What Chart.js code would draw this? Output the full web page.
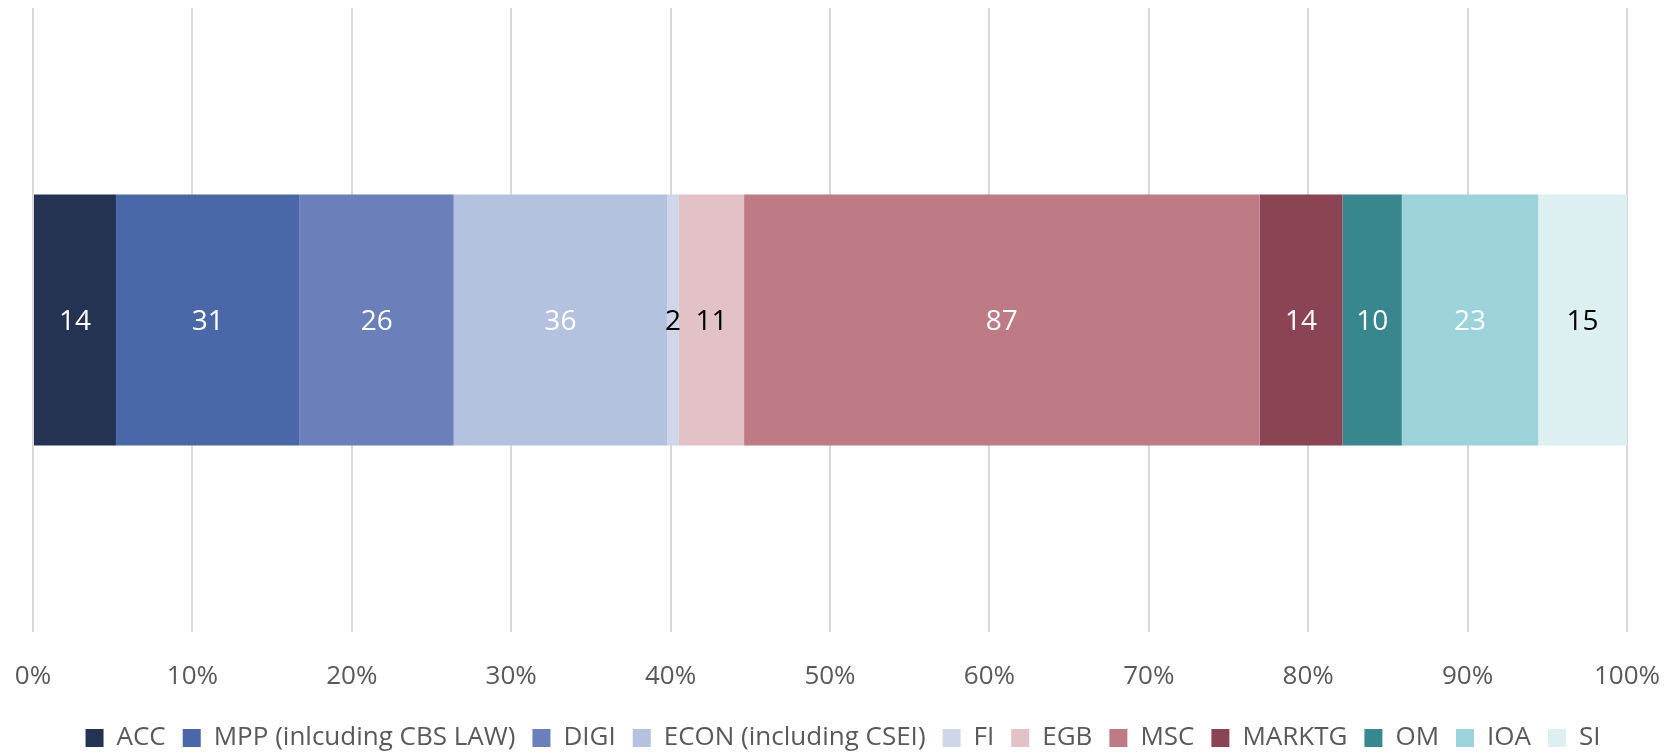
<!DOCTYPE html>
<html>
<head>
<meta charset="utf-8">
<script src="https://cdn.jsdelivr.net/npm/chart.js@4"></script>
<style>
  html, body { margin: 0; padding: 0; background: #fff; }
  #wrap { width: 1670px; height: 754px; }
</style>
</head>
<body>
<div id="wrap"><canvas id="chart-programmes" width="1670" height="754"></canvas></div>
<script>
// Anzahl je Programm (Werte aus den Balkenbeschriftungen)
const programmes = ["ACC", "MPP (inlcuding CBS LAW)", "DIGI", "ECON (including CSEI)", "FI", "EGB", "MSC", "MARKTG", "OM", "IOA", "SI"];
const counts = [14, 31, 26, 36, 2, 11, 87, 14, 10, 23, 15];
const category = [""];
const xTicks = [0, 10, 20, 30, 40, 50, 60, 70, 80, 90, 100];

const fills = ["#243352", "#4a67a8", "#6b80ba", "#b4c2df", "#d0d6e9", "#e2c1c7", "#be7b86", "#8a4453", "#38878e", "#9cd3da", "#dcf0f2"];
const labelInk = ["#fff", "#fff", "#fff", "#fff", "#000", "#000", "#fff", "#fff", "#fff", "#fff", "#000"];

const FONT = "'Open Sans', 'DejaVu Sans', sans-serif";
const total = counts.reduce((a, b) => a + b, 0);

// kleine Eigenbau-Beschriftung, da kein datalabels-Plugin verfügbar
const barLabels = {
  id: "barLabels",
  afterDatasetsDraw(chart) {
    const ctx = chart.ctx;
    ctx.save();
    ctx.font = "28px " + FONT;
    ctx.textAlign = "center";
    ctx.textBaseline = "middle";
    chart.data.datasets.forEach((ds, i) => {
      const meta = chart.getDatasetMeta(i);
      meta.data.forEach((bar) => {
        const c = bar.getCenterPoint();
        ctx.fillStyle = labelInk[i];
        ctx.fillText(String(counts[i]), c.x, c.y + 2);
      });
    });
    ctx.restore();
  },
};

// Legende etwas nach rechts/unten schieben (wie im Original)
const legendNudge = {
  id: "legendNudge",
  afterLayout(chart) {
    const lg = chart.legend;
    if (!lg) return;
    lg.left += 13;
    lg.right += 13;
    lg.top += 7;
    lg.bottom += 7;
  },
};

new Chart(document.getElementById("chart-programmes"), {
  type: "bar",
  data: {
    labels: category,
    datasets: programmes.map((name, i) => ({
      label: name,
      data: [(counts[i] / total) * 100],
      backgroundColor: fills[i],
      borderWidth: 0,
      barPercentage: 0.402,
      categoryPercentage: 1,
    })),
  },
  options: {
    indexAxis: "y",
    responsive: false,
    animation: false,
    devicePixelRatio: 1,
    layout: { padding: { left: 33, right: 43, top: 8, bottom: 0 } },
    scales: {
      x: {
        stacked: true,
        min: 0,
        max: 100,
        afterBuildTicks(scale) {
          scale.ticks = xTicks.map((v) => ({ value: v }));
        },
        afterFit(scale) {
          scale.height = 69;
        },
        border: { display: false },
        grid: {
          color: "#d9d9d9",
          lineWidth: 2,
          drawTicks: true,
          tickLength: 29,
          tickColor: "rgba(0,0,0,0)",
        },
        ticks: {
          padding: 0,
          color: "#595959",
          font: { family: FONT, size: 26 },
          maxRotation: 0,
          callback: (v) => v + "%",
        },
      },
      y: { stacked: true, display: false },
    },
    plugins: {
      legend: {
        position: "bottom",
        labels: {
          boxWidth: 18,
          boxHeight: 18,
          padding: 17,
          color: "#595959",
          font: { family: FONT, size: 26 },
        },
      },
      tooltip: { enabled: false },
    },
  },
  plugins: [barLabels, legendNudge],
});
</script>
</body>
</html>
